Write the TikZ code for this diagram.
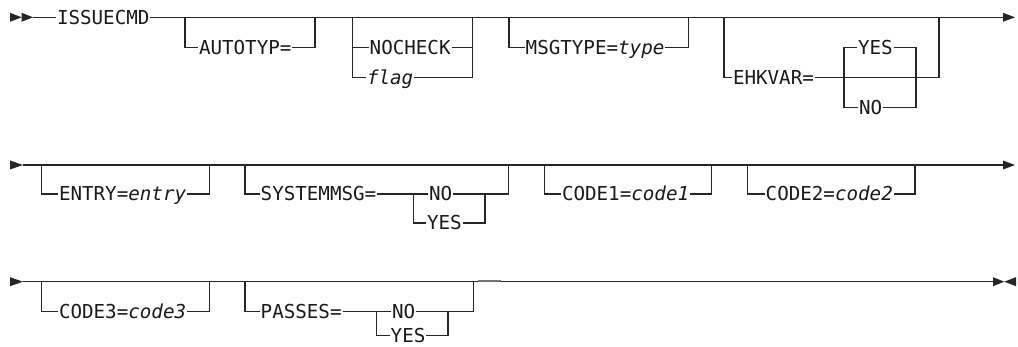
\documentclass[tikz,border=0pt]{standalone}
\usepackage{fontspec}
\newfontfamily\railfont{DejaVu Sans Mono}
\usetikzlibrary{calc}

\begin{document}
\begin{tikzpicture}[
    x=1pt, y=-1pt,
    % rail line
    rail/.style={
        draw=black!85,
        line width=1.1pt
    },
    % filled arrow heads
    tip/.style={
        fill=black!85
    },
    % keyword / variable text
    kw/.style={
        anchor=west,
        inner sep=1pt,
        outer sep=0pt,
        text height=14pt,
        text depth=0pt,
        text=black!90,
        font=\railfont\fontsize{19.2}{22}\selectfont
    }
]
\useasboundingbox (0,0) rectangle (1018,347);

% === Row 1 ===
\fill[tip] (10,12.8) -- (21.7,17.3) -- (10,21.8) -- cycle;
\fill[tip] (21.7,12.8) -- (33,17.3) -- (21.7,21.8) -- cycle;
\coordinate (r1s) at (33,17.3);
\coordinate (r1e) at (1003,17.3);
\node[kw] (issuecmd) at (56,17.3) {ISSUECMD};
\draw[rail] (r1s) -- (issuecmd.west);
\draw[rail] (issuecmd.east) -- (r1e);
\fill[tip] (1003,12.8) -- (1015,17.3) -- (1003,21.8) -- cycle;

% AUTOTYP=
\coordinate (au1) at (185,17.3);
\coordinate (au2) at (315,17.3);
\node[kw] (autotyp) at (198,47.3) {AUTOTYP=};
\draw[rail] (au1) |- (autotyp.west);
\draw[rail] (autotyp.east) -| (au2);

% NOCHECK / flag
\coordinate (nc1) at (352.7,17.3);
\coordinate (nc2) at (472.7,17.3);
\node[kw] (nocheck) at (368.7,47.3) {NOCHECK};
\node[kw] (flag) at (366,77.3) {\itshape flag};
\draw[rail] (nc1) |- (flag.west);
\draw[rail] (nc1 |- nocheck.west) -- (nocheck.west);
\draw[rail] (nocheck.east) -- (nc2 |- nocheck.east);
\draw[rail] (flag.east) -| (nc2);

% MSGTYPE=type
\coordinate (mt1) at (509,17.3);
\coordinate (mt2) at (688.3,17.3);
\node[kw] (msgtype) at (524.7,47.3) {MSGTYPE=\textit{type}};
\draw[rail] (mt1) |- (msgtype.west);
\draw[rail] (msgtype.east) -| (mt2);

% EHKVAR= YES / NO
\coordinate (ek1) at (724,17.3);
\coordinate (ek2) at (939,17.3);
\node[kw] (ehkvar) at (732,77.3) {EHKVAR=};
\coordinate (ekc1) at (844,77.3);
\coordinate (ekc2) at (916,77.3);
\node[kw] (ekyes) at (857,47.3) {YES};
\node[kw] (ekno) at (858,107.3) {NO};
\draw[rail] (ek1) |- (ehkvar.west);
\draw[rail] (ehkvar.east) -- (ekc1) -- (ekc2) -| (ek2);
\draw[rail] (ekyes.west) -| (ekc1) |- (ekno.west);
\draw[rail] (ekyes.east) -| (ekc2) |- (ekno.east);

% === Row 2 ===
\fill[tip] (10,160.5) -- (23,165) -- (10,169.5) -- cycle;
\coordinate (r2s) at (23,165);
\coordinate (r2e) at (1003,165);
\draw[rail] (r2s) -- (r2e);
\fill[tip] (1003,160.5) -- (1015,165) -- (1003,169.5) -- cycle;

% ENTRY=entry
\coordinate (en1) at (41.7,165);
\coordinate (en2) at (209.3,165);
\node[kw] (entry) at (58,194) {ENTRY=\textit{entry}};
\draw[rail] (en1) |- (entry.west);
\draw[rail] (entry.east) -| (en2);

% SYSTEMMSG= NO / YES
\coordinate (sm1) at (245,165);
\coordinate (sm2) at (508.3,165);
\node[kw] (systemmsg) at (259.7,194) {SYSTEMMSG=};
\coordinate (smc1) at (413.3,194);
\coordinate (smc2) at (485,194);
\node[kw] (smno) at (428,194) {NO};
\node[kw] (smyes) at (426,223) {YES};
\draw[rail] (sm1) |- (systemmsg.west);
\draw[rail] (systemmsg.east) -- (smno.west);
\draw[rail] (smno.east) -- (smc2) -| (sm2);
\draw[rail] (smc1) |- (smyes.west);
\draw[rail] (smyes.east) -| (smc2);

% CODE1=code1
\coordinate (ca1) at (544.3,165);
\coordinate (ca2) at (711.7,165);
\node[kw] (code1) at (561,194) {CODE1=\textit{code1}};
\draw[rail] (ca1) |- (code1.west);
\draw[rail] (code1.east) -| (ca2);

% CODE2=code2
\coordinate (cb1) at (747.7,165);
\coordinate (cb2) at (915,165);
\node[kw] (code2) at (764.7,194) {CODE2=\textit{code2}};
\draw[rail] (cb1) |- (code2.west);
\draw[rail] (code2.east) -| (cb2);

% === Row 3 ===
\fill[tip] (10,277.2) -- (23,281.7) -- (10,286.2) -- cycle;
\coordinate (r3s) at (23,281.7);
\coordinate (r3e) at (993,281.7);
\draw[rail] (r3s) -- (r3e);
\draw[draw=black!55, line width=2pt] (478,281.4) -- (501,281.4);
\fill[tip] (993,277.2) -- (1004.3,281.7) -- (993,286.2) -- cycle;
\fill[tip] (1016,277.2) -- (1004.3,281.7) -- (1016,286.2) -- cycle;

% CODE3=code3
\coordinate (cc1) at (41.7,281.7);
\coordinate (cc2) at (209.3,281.7);
\node[kw] (code3) at (58,311.5) {CODE3=\textit{code3}};
\draw[rail] (cc1) |- (code3.west);
\draw[rail] (code3.east) -| (cc2);

% PASSES= NO / YES
\coordinate (ps1) at (245,281.7);
\coordinate (ps2) at (473.3,281.7);
\node[kw] (passes) at (259.7,311.5) {PASSES=};
\coordinate (psc1) at (376.7,311.5);
\coordinate (psc2) at (448,311.5);
\node[kw] (psno) at (391,311.5) {NO};
\node[kw] (psyes) at (389.7,335.5) {YES};
\draw[rail] (ps1) |- (passes.west);
\draw[rail] (passes.east) -- (psno.west);
\draw[rail] (psno.east) -- (psc2) -| (ps2);
\draw[rail] (psc1) |- (psyes.west);
\draw[rail] (psyes.east) -| (psc2);

\end{tikzpicture}
\end{document}
